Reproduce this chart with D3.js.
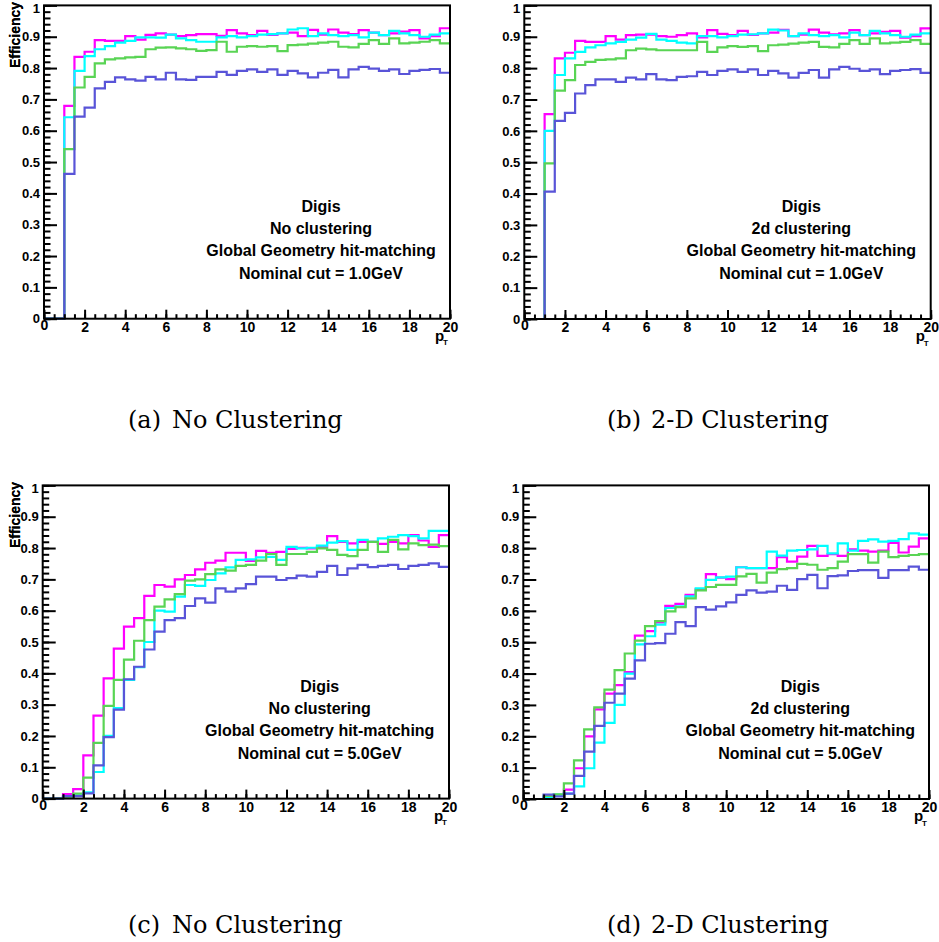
<!DOCTYPE html>
<html><head><meta charset="utf-8">
<script src="https://cdn.jsdelivr.net/npm/d3@7"></script>
<style>body{margin:0;background:#fff}svg{display:block}</style>
</head><body>
<script>
// ---- data ----
const binLow = [0,0.5,1,1.5,2,2.5,3,3.5,4,4.5,5,5.5,6,6.5,7,7.5,8,8.5,9,9.5,10,10.5,11,11.5,12,12.5,13,13.5,14,14.5,15,15.5,16,16.5,17,17.5,18,18.5,19,19.5];
const xMax = 20;
const xTicks = [0,2,4,6,8,10,12,14,16,18,20];
const xTickLabels = ["0","2","4","6","8","10","12","14","16","18","20"];
const xMinor = [0,0.5,1,1.5,2,2.5,3,3.5,4,4.5,5,5.5,6,6.5,7,7.5,8,8.5,9,9.5,10,10.5,11,11.5,12,12.5,13,13.5,14,14.5,15,15.5,16,16.5,17,17.5,18,18.5,19,19.5,20];
const yTicks = [0,0.1,0.2,0.3,0.4,0.5,0.6,0.7,0.8,0.9,1];
const yTickLabels = ["0","0.1","0.2","0.3","0.4","0.5","0.6","0.7","0.8","0.9","1"];
const yMinor = [0,0.02,0.04,0.06,0.08,0.1,0.12,0.14,0.16,0.18,0.2,0.22,0.24,0.26,0.28,0.3,0.32,0.34,0.36,0.38,0.4,0.42,0.44,0.46,0.48,0.5,0.52,0.54,0.56,0.58,0.6,0.62,0.64,0.66,0.68,0.7,0.72,0.74,0.76,0.78,0.8,0.82,0.84,0.86,0.88,0.9,0.92,0.94,0.96,0.98,1];

const magentaA = [0,0,0.679,0.836,0.852,0.889,0.887,0.887,0.902,0.891,0.906,0.911,0.907,0.902,0.905,0.908,0.908,0.903,0.921,0.911,0.905,0.919,0.906,0.911,0.913,0.902,0.922,0.907,0.923,0.913,0.908,0.921,0.913,0.905,0.911,0.916,0.921,0.895,0.902,0.927];
const cyanA    = [0,0,0.643,0.791,0.838,0.860,0.870,0.881,0.887,0.898,0.898,0.897,0.907,0.895,0.889,0.884,0.884,0.898,0.902,0.898,0.902,0.907,0.908,0.911,0.923,0.927,0.902,0.911,0.905,0.902,0.905,0.898,0.913,0.905,0.919,0.911,0.905,0.900,0.907,0.911];
const greenA   = [0,0,0.541,0.738,0.772,0.815,0.828,0.831,0.834,0.836,0.860,0.865,0.866,0.863,0.860,0.855,0.857,0.884,0.852,0.868,0.870,0.868,0.870,0.854,0.873,0.875,0.878,0.881,0.884,0.868,0.866,0.877,0.889,0.877,0.895,0.879,0.881,0.884,0.889,0.879];
const blueA    = [0,0,0.462,0.645,0.674,0.735,0.756,0.770,0.764,0.760,0.772,0.764,0.785,0.764,0.762,0.772,0.772,0.788,0.778,0.791,0.796,0.788,0.796,0.778,0.791,0.783,0.770,0.785,0.794,0.770,0.796,0.804,0.798,0.791,0.796,0.781,0.791,0.794,0.797,0.785];

const magentaB = [0,0,0.653,0.831,0.849,0.887,0.884,0.884,0.902,0.891,0.905,0.907,0.907,0.902,0.900,0.905,0.911,0.898,0.921,0.909,0.905,0.919,0.906,0.911,0.913,0.922,0.902,0.907,0.923,0.913,0.908,0.911,0.921,0.905,0.911,0.916,0.919,0.897,0.902,0.927];
const cyanB    = [0,0,0.600,0.778,0.831,0.852,0.866,0.873,0.879,0.884,0.891,0.897,0.909,0.891,0.887,0.881,0.879,0.902,0.902,0.898,0.902,0.907,0.908,0.911,0.923,0.920,0.902,0.911,0.905,0.902,0.905,0.898,0.913,0.905,0.919,0.911,0.905,0.900,0.907,0.911];
const greenB   = [0,0,0.496,0.728,0.762,0.810,0.820,0.826,0.828,0.831,0.857,0.862,0.860,0.857,0.857,0.857,0.857,0.884,0.852,0.866,0.870,0.868,0.870,0.854,0.873,0.875,0.878,0.881,0.884,0.868,0.866,0.877,0.889,0.877,0.895,0.879,0.881,0.884,0.889,0.877];
const blueB    = [0,0,0.406,0.632,0.657,0.719,0.746,0.764,0.764,0.756,0.770,0.764,0.781,0.764,0.762,0.772,0.774,0.788,0.778,0.791,0.796,0.788,0.796,0.778,0.791,0.783,0.770,0.785,0.794,0.770,0.796,0.804,0.798,0.791,0.796,0.781,0.791,0.794,0.797,0.785];

const magentaC = [0,0,0.014,0.030,0.138,0.265,0.384,0.479,0.549,0.576,0.647,0.682,0.677,0.700,0.714,0.732,0.753,0.760,0.785,0.785,0.759,0.791,0.785,0.788,0.797,0.801,0.799,0.804,0.838,0.820,0.815,0.820,0.820,0.813,0.820,0.815,0.841,0.824,0.804,0.841];
const cyanC    = [0,0,0.005,0.010,0.020,0.085,0.200,0.289,0.379,0.420,0.500,0.600,0.597,0.645,0.682,0.679,0.698,0.719,0.738,0.762,0.764,0.770,0.772,0.762,0.804,0.799,0.801,0.808,0.817,0.822,0.794,0.826,0.820,0.831,0.836,0.841,0.838,0.831,0.855,0.855];
const greenC   = [0,0,0.005,0.016,0.067,0.178,0.296,0.379,0.444,0.504,0.570,0.613,0.636,0.653,0.696,0.700,0.717,0.732,0.728,0.743,0.746,0.760,0.781,0.746,0.781,0.781,0.788,0.799,0.794,0.778,0.774,0.794,0.820,0.788,0.826,0.796,0.815,0.809,0.811,0.806];
const blueC    = [0,0,0.008,0.008,0.017,0.106,0.196,0.284,0.381,0.421,0.476,0.533,0.570,0.576,0.615,0.639,0.626,0.671,0.661,0.671,0.685,0.709,0.709,0.698,0.704,0.712,0.709,0.724,0.743,0.714,0.735,0.746,0.739,0.743,0.746,0.733,0.743,0.746,0.751,0.740];

const magentaD = [0,0,0.005,0.010,0.030,0.098,0.200,0.286,0.336,0.363,0.405,0.521,0.535,0.563,0.616,0.622,0.651,0.669,0.717,0.706,0.701,0.739,0.736,0.736,0.736,0.771,0.757,0.773,0.807,0.775,0.781,0.775,0.796,0.792,0.789,0.792,0.817,0.786,0.805,0.831];
const cyanD    = [0,0,0.005,0.014,0.017,0.040,0.098,0.180,0.243,0.300,0.400,0.493,0.519,0.556,0.609,0.614,0.646,0.672,0.699,0.707,0.709,0.739,0.736,0.736,0.789,0.776,0.792,0.794,0.796,0.807,0.783,0.815,0.792,0.823,0.828,0.821,0.823,0.829,0.847,0.843];
const greenD   = [0,0,0.010,0.015,0.050,0.123,0.222,0.292,0.349,0.411,0.464,0.505,0.551,0.567,0.598,0.612,0.640,0.665,0.676,0.683,0.683,0.710,0.718,0.690,0.722,0.733,0.736,0.750,0.747,0.731,0.736,0.757,0.781,0.781,0.754,0.789,0.771,0.775,0.778,0.781];
const blueD    = [0,0,0.014,0.008,0.017,0.074,0.151,0.233,0.307,0.336,0.384,0.442,0.495,0.497,0.527,0.564,0.551,0.612,0.604,0.614,0.627,0.651,0.665,0.658,0.661,0.680,0.667,0.701,0.715,0.672,0.711,0.713,0.727,0.730,0.730,0.705,0.730,0.730,0.741,0.731];

const seriesColors = ["#ff00ff","#00ffff","#59d454","#5954d8"];
const captionTags = ["(a)","(b)","(c)","(d)"];
const captionTexts = ["No Clustering","2-D Clustering","No Clustering","2-D Clustering"];
const panelLabelsA = ["Digis","No clustering","Global Geometry hit-matching","Nominal cut = 1.0GeV"];
const panelLabelsB = ["Digis","2d clustering","Global Geometry hit-matching","Nominal cut = 1.0GeV"];
const panelLabelsC = ["Digis","No clustering","Global Geometry hit-matching","Nominal cut = 5.0GeV"];
const panelLabelsD = ["Digis","2d clustering","Global Geometry hit-matching","Nominal cut = 5.0GeV"];
const yTitle = "Efficiency";

// ---- layout ----
const W = 939, H = 942;
const panels = [
  {left:44,   right:450,   top:5.4,   bottom:318.7, series:[magentaA,cyanA,greenA,blueA], labels:panelLabelsA, capX:128, capY:428},
  {left:524.3,right:930.7, top:5.4,   bottom:319,   series:[magentaB,cyanB,greenB,blueB], labels:panelLabelsB, capX:607, capY:428},
  {left:42.7, right:449,   top:485.4, bottom:798.6, series:[magentaC,cyanC,greenC,blueC], labels:panelLabelsC, capX:128, capY:933},
  {left:523.3,right:929,   top:485.4, bottom:799,   series:[magentaD,cyanD,greenD,blueD], labels:panelLabelsD, capX:607, capY:933}
];

const svg = d3.select("body").append("svg").attr("width",W).attr("height",H);
const sans = "'Liberation Sans', Arial, Helvetica, sans-serif";

panels.forEach((p,pi)=>{
  const x = d3.scaleLinear().domain([0,xMax]).range([p.left,p.right]);
  const y = d3.scaleLinear().domain([0,1]).range([p.bottom,p.top]);
  const g = svg.append("g");

  // histograms
  const line = d3.line().x(d=>x(d[0])).y(d=>y(d[1])).curve(d3.curveStepAfter);
  p.series.forEach((vals,si)=>{
    const pts = binLow.map((b,i)=>[b, vals[i]]);
    pts.push([xMax, vals[vals.length-1]]);
    g.append("path").attr("d", line(pts)).attr("fill","none")
      .attr("stroke", seriesColors[si]).attr("stroke-width",2.2);
  });

  // frame
  g.append("rect").attr("x",p.left).attr("y",p.top)
    .attr("width",p.right-p.left).attr("height",p.bottom-p.top)
    .attr("fill","none").attr("stroke","#000").attr("stroke-width",2);

  // x axis
  const gxMinor = g.append("g").attr("transform",`translate(0,${p.bottom})`)
    .call(d3.axisBottom(x).tickValues(xMinor).tickSize(-4.5).tickFormat(""));
  const gx = g.append("g").attr("transform",`translate(0,${p.bottom})`)
    .call(d3.axisBottom(x).tickValues(xTicks).tickSize(-9).tickPadding(3)
      .tickFormat((d,i)=>xTickLabels[i]));
  // y axis
  const gyMinor = g.append("g").attr("transform",`translate(${p.left},0)`)
    .call(d3.axisLeft(y).tickValues(yMinor).tickSize(-6.5).tickFormat(""));
  const gy = g.append("g").attr("transform",`translate(${p.left},0)`)
    .call(d3.axisLeft(y).tickValues(yTicks).tickSize(-13).tickPadding(4)
      .tickFormat((d,i)=>yTickLabels[i]));
  [gxMinor,gx,gyMinor,gy].forEach(a=>{
    a.select(".domain").remove();
    a.selectAll("line").attr("stroke","#000").attr("stroke-width",2);
    a.selectAll("text").attr("fill","#000").style("font-family",sans).style("font-weight","bold");
  });
  gx.selectAll("text").style("font-size","14px");
  gx.selectAll("text").filter((d,i)=>i===0).attr("y",1.5);
  gy.selectAll("text").style("font-size","13px");
  gy.selectAll("text").filter((d,i)=>i===yTicks.length-1).attr("y",2.5);

  // axis titles
  g.append("text").attr("transform",`translate(20,${p.top-3.5}) rotate(-90)`)
    .attr("text-anchor","end").style("font-family",sans).style("font-weight","bold")
    .style("font-size","14px").text(yTitle);
  g.append("text").attr("x",p.right-15).attr("y",p.bottom+22)
    .style("font-family",sans).style("font-weight","bold").style("font-size","15px").text("p");
  g.append("text").attr("x",p.right-7).attr("y",p.bottom+26.5)
    .style("font-family",sans).style("font-weight","bold").style("font-size","8px").text("T");

  // annotation text
  const offs = [107,85,63,40];
  p.labels.forEach((t,i)=>{
    g.append("text").attr("x",p.left+277).attr("y",p.bottom-offs[i])
      .attr("text-anchor","middle").style("font-family",sans).style("font-weight","bold")
      .style("font-size","16px").text(t);
  });

  // caption
  const cap = svg.append("text").attr("y",p.capY)
    .style("font-family","'DejaVu Serif', serif").style("font-size","24px").attr("fill","#000");
  cap.append("tspan").attr("x",p.capX).text(captionTags[pi]);
  cap.append("tspan").attr("x",p.capX+44).text(captionTexts[pi]);
});
</script>
</body></html>
